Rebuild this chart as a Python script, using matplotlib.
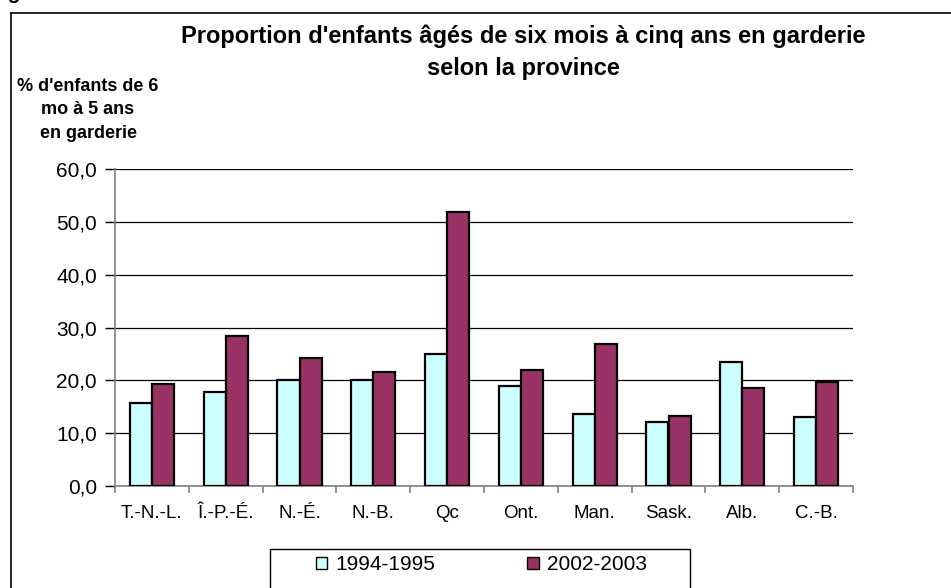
import numpy as np
import matplotlib
matplotlib.use('Agg')
import matplotlib.pyplot as plt
from matplotlib.patches import Patch, Rectangle
from matplotlib.lines import Line2D

plt.rcParams['font.family'] = ['Liberation Sans', 'DejaVu Sans']

# Data
provinces = ['T.-N.-L.', 'Î.-P.-É.', 'N.-É.', 'N.-B.', 'Qc', 'Ont.', 'Man.', 'Sask.', 'Alb.', 'C.-B.']
vals_1994 = [15.7, 17.8, 20.0, 20.0, 24.9, 18.9, 13.7, 12.2, 23.4, 13.0]
vals_2002 = [19.3, 28.4, 24.2, 21.5, 51.9, 21.9, 26.8, 13.3, 18.5, 19.7]
series_labels = ['1994-1995', '2002-2003']
yticks = [0, 10, 20, 30, 40, 50, 60]

light = '#CCFFFF'
dark = '#993366'

W, H = 951, 588
fig = plt.figure(figsize=(W / 100, H / 100), dpi=100)

# outer chart border (only top and left edges are visible in the crop)
fig.add_artist(Line2D([11 / W, 11 / W], [0, 1 - 13 / H], color='black', lw=1.2))
fig.add_artist(Line2D([11 / W, 1], [1 - 13 / H, 1 - 13 / H], color='black', lw=1.2))

# caption above the chart, mostly cut off by the crop
fig.text(-10 / W, 1 + 1 / H, 'Figure', fontsize=15, fontweight='bold', va='baseline', ha='left')

ax = fig.add_axes([115 / W, 1 - 486 / H, (853 - 115) / W, (486 - 169) / H])

x = np.arange(len(provinces))
bw = 0.3
ax.bar(x - bw / 2, vals_1994, bw, color=light, edgecolor='black', linewidth=1.6, zorder=3)
ax.bar(x + bw / 2, vals_2002, bw, color=dark, edgecolor='black', linewidth=1.6, zorder=3)

ax.set_xlim(-0.5, len(provinces) - 0.5)
ax.set_ylim(0, 60)
ax.set_yticks(yticks)
ax.set_yticklabels([f'{v:.1f}'.replace('.', ',') for v in yticks], fontsize=15)
ax.yaxis.grid(True, color='black', linewidth=0.9, zorder=0)
ax.set_axisbelow(True)

ax.set_xticks(x)
ax.set_xticklabels(provinces, fontsize=13.5)
ax.set_xticks(np.arange(-0.5, len(provinces)), minor=True)
ax.tick_params(axis='x', which='major', length=0, pad=14)
ax.tick_params(axis='x', which='minor', length=5, color='#808080', width=1.2, direction='out')
ax.tick_params(axis='y', length=7, color='black', width=1, pad=6)

for side in ['top', 'right']:
    ax.spines[side].set_visible(False)
ax.spines['left'].set_color('#808080')
ax.spines['left'].set_linewidth(1.2)
ax.spines['bottom'].set_color('#808080')
ax.spines['bottom'].set_linewidth(1.2)

fig.text(523 / W, 1 - 36 / H, "Proportion d'enfants âgés de six mois à cinq ans en garderie",
         fontsize=17, fontweight='bold', ha='center', va='center')
fig.text(523 / W, 1 - 69 / H, 'selon la province',
         fontsize=17, fontweight='bold', ha='center', va='center')

fig.text(88 / W, 1 - 110 / H, "% d'enfants de 6\nmo à 5 ans\nen garderie",
         fontsize=13, fontweight='bold', ha='center', va='center', linespacing=1.5)

# legend box runs past the bottom of the crop
fig.add_artist(Rectangle((270 / W, -0.05), 420 / W, 0.05 + 1 - 549 / H,
                         transform=fig.transFigure, facecolor='white',
                         edgecolor='black', linewidth=1))
handles = [Patch(facecolor=light, edgecolor='black', linewidth=1),
           Patch(facecolor=dark, edgecolor='black', linewidth=1)]
leg = fig.legend(handles, series_labels, loc='center left',
                 bbox_to_anchor=(316 / W, 1 - 565 / H),
                 ncol=2, fontsize=15, frameon=False, borderaxespad=0, borderpad=0,
                 handlelength=0.55, handleheight=0.55, handletextpad=0.4,
                 columnspacing=4.4)

fig.savefig('out.png', dpi=100)
